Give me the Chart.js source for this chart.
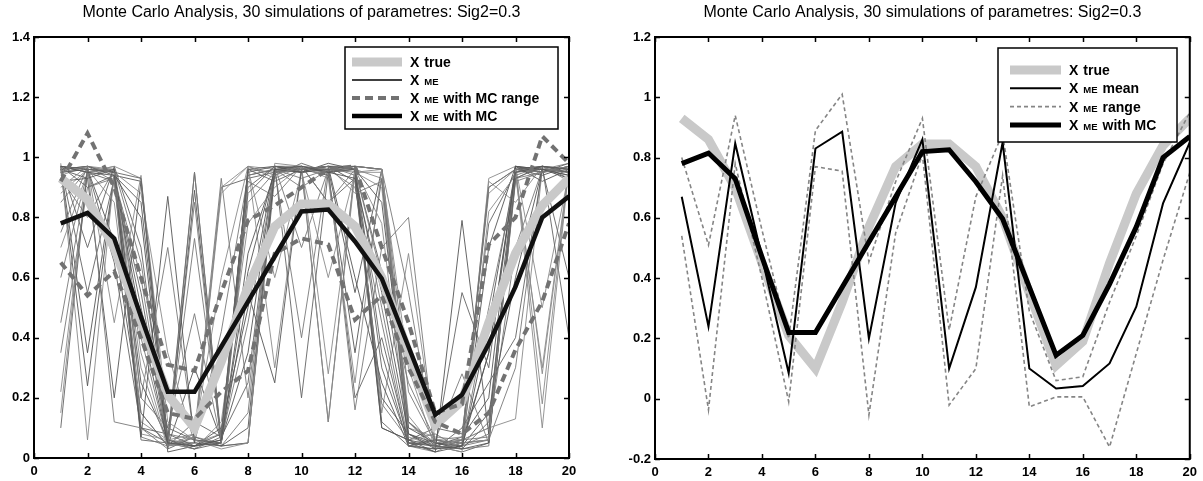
<!DOCTYPE html>
<html>
<head>
<meta charset="utf-8">
<script src="https://cdn.jsdelivr.net/npm/chart.js@4.4.0/dist/chart.umd.min.js"></script>
<style>
    html, body { margin: 0; padding: 0; background: #fff; }
    #wrap { position: relative; width: 1203px; height: 481px; }
    canvas { position: absolute; top: 0; }
</style>
</head>
<body>
<div id="wrap">
    <canvas id="left" width="600" height="481" style="left:0"></canvas>
    <canvas id="right" width="603" height="481" style="left:600px"></canvas>
</div>
<script>
// time steps 1..20
const steps = [1, 2, 3, 4, 5, 6, 7, 8, 9, 10, 11, 12, 13, 14, 15, 16, 17, 18, 19, 20];
const xTickValues = [0, 2, 4, 6, 8, 10, 12, 14, 16, 18, 20];
const leftYTickValues = [0, 0.2, 0.4, 0.6, 0.8, 1, 1.2, 1.4];
const rightYTickValues = [-0.2, 0, 0.2, 0.4, 0.6, 0.8, 1, 1.2];

const titleText = 'Monte Carlo Analysis, 30 simulations of parametres: Sig2=0.3';

// shared series
const trueState = [0.93, 0.86, 0.70, 0.45, 0.21, 0.10, 0.32, 0.57, 0.77, 0.845, 0.845, 0.77, 0.60, 0.35, 0.11, 0.19, 0.45, 0.68, 0.84, 0.93];
const meWithMc = [0.78, 0.815, 0.73, 0.47, 0.22, 0.22, 0.37, 0.52, 0.67, 0.82, 0.826, 0.72, 0.597, 0.37, 0.144, 0.21, 0.38, 0.57, 0.80, 0.87];

// left panel: MC range (thick dashed)
const leftRangeHigh = [0.92, 1.08, 0.90, 0.60, 0.31, 0.29, 0.55, 0.79, 0.84, 0.90, 0.96, 0.97, 0.70, 0.45, 0.15, 0.18, 0.71, 0.80, 1.07, 0.98];
const leftRangeLow = [0.65, 0.54, 0.62, 0.40, 0.15, 0.13, 0.22, 0.29, 0.68, 0.73, 0.71, 0.46, 0.54, 0.30, 0.12, 0.08, 0.15, 0.36, 0.52, 0.78];

// left panel: the 30 simulated X ME runs
const simRuns = [
    [0.97, 0.95, 0.94, 0.45, 0.05, 0.04, 0.06, 0.62, 0.96, 0.97, 0.95, 0.93, 0.55, 0.08, 0.03, 0.04, 0.35, 0.95, 0.97, 0.96],
    [0.95, 0.97, 0.12, 0.10, 0.03, 0.95, 0.05, 0.85, 0.95, 0.96, 0.97, 0.88, 0.92, 0.12, 0.05, 0.06, 0.90, 0.96, 0.95, 0.97],
    [0.10, 0.96, 0.95, 0.93, 0.06, 0.03, 0.07, 0.95, 0.97, 0.20, 0.95, 0.96, 0.30, 0.05, 0.04, 0.03, 0.12, 0.93, 0.97, 0.95],
    [0.98, 0.06, 0.95, 0.30, 0.04, 0.07, 0.90, 0.97, 0.94, 0.97, 0.93, 0.25, 0.96, 0.14, 0.03, 0.05, 0.06, 0.96, 0.10, 0.97],
    [0.92, 0.93, 0.96, 0.07, 0.87, 0.05, 0.04, 0.10, 0.96, 0.95, 0.98, 0.96, 0.10, 0.06, 0.02, 0.79, 0.08, 0.97, 0.96, 0.94],
    [0.35, 0.90, 0.93, 0.60, 0.05, 0.73, 0.06, 0.45, 0.95, 0.97, 0.85, 0.96, 0.60, 0.25, 0.06, 0.04, 0.50, 0.93, 0.95, 0.96],
    [0.97, 0.96, 0.65, 0.10, 0.08, 0.04, 0.08, 0.96, 0.92, 0.96, 0.96, 0.97, 0.35, 0.04, 0.03, 0.10, 0.25, 0.40, 0.96, 0.95],
    [0.22, 0.95, 0.97, 0.93, 0.12, 0.06, 0.03, 0.05, 0.98, 0.97, 0.12, 0.95, 0.96, 0.07, 0.04, 0.02, 0.82, 0.94, 0.30, 0.97],
    [0.96, 0.24, 0.94, 0.80, 0.03, 0.89, 0.05, 0.55, 0.25, 0.96, 0.97, 0.96, 0.85, 0.10, 0.05, 0.03, 0.05, 0.97, 0.96, 0.93],
    [0.75, 0.97, 0.92, 0.15, 0.04, 0.08, 0.93, 0.20, 0.96, 0.93, 0.96, 0.16, 0.70, 0.80, 0.04, 0.06, 0.07, 0.92, 0.95, 0.97],
    [0.97, 0.90, 0.94, 0.50, 0.10, 0.06, 0.05, 0.88, 0.97, 0.96, 0.95, 0.97, 0.12, 0.04, 0.06, 0.05, 0.90, 0.96, 0.97, 0.40],
    [0.90, 0.97, 0.45, 0.94, 0.05, 0.03, 0.12, 0.78, 0.90, 0.97, 0.28, 0.95, 0.95, 0.30, 0.03, 0.06, 0.10, 0.13, 0.96, 0.95],
    [0.95, 0.96, 0.95, 0.25, 0.06, 0.95, 0.06, 0.96, 0.97, 0.95, 0.96, 0.55, 0.96, 0.05, 0.02, 0.04, 0.70, 0.97, 0.92, 0.96],
    [0.60, 0.95, 0.96, 0.07, 0.04, 0.05, 0.42, 0.94, 0.96, 0.40, 0.97, 0.94, 0.18, 0.06, 0.08, 0.03, 0.04, 0.95, 0.97, 0.93],
    [0.97, 0.70, 0.97, 0.70, 0.03, 0.07, 0.04, 0.05, 0.94, 0.98, 0.95, 0.96, 0.62, 0.12, 0.04, 0.55, 0.30, 0.97, 0.95, 0.98],
    [0.88, 0.96, 0.85, 0.12, 0.06, 0.05, 0.88, 0.97, 0.96, 0.95, 0.60, 0.95, 0.90, 0.04, 0.06, 0.07, 0.88, 0.96, 0.28, 0.96],
    [0.96, 0.97, 0.94, 0.85, 0.05, 0.04, 0.06, 0.35, 0.97, 0.96, 0.97, 0.92, 0.20, 0.08, 0.05, 0.04, 0.15, 0.60, 0.96, 0.95],
    [0.45, 0.94, 0.96, 0.20, 0.70, 0.06, 0.05, 0.92, 0.87, 0.97, 0.95, 0.97, 0.96, 0.55, 0.03, 0.05, 0.06, 0.94, 0.97, 0.96],
    [0.97, 0.55, 0.93, 0.55, 0.04, 0.12, 0.07, 0.25, 0.96, 0.95, 0.96, 0.20, 0.40, 0.05, 0.04, 0.02, 0.05, 0.97, 0.95, 0.97],
    [0.94, 0.97, 0.96, 0.08, 0.06, 0.08, 0.60, 0.97, 0.30, 0.97, 0.95, 0.96, 0.93, 0.10, 0.07, 0.06, 0.92, 0.85, 0.97, 0.92],
    [0.96, 0.93, 0.20, 0.92, 0.02, 0.04, 0.05, 0.68, 0.95, 0.96, 0.97, 0.60, 0.25, 0.04, 0.03, 0.05, 0.35, 0.96, 0.94, 0.97],
    [0.85, 0.96, 0.95, 0.40, 0.05, 0.85, 0.04, 0.05, 0.96, 0.90, 0.96, 0.97, 0.96, 0.22, 0.05, 0.04, 0.06, 0.30, 0.97, 0.95],
    [0.97, 0.95, 0.92, 0.06, 0.05, 0.03, 0.05, 0.90, 0.97, 0.97, 0.85, 0.93, 0.10, 0.06, 0.10, 0.08, 0.78, 0.95, 0.96, 0.60],
    [0.15, 0.97, 0.95, 0.88, 0.35, 0.05, 0.08, 0.96, 0.60, 0.95, 0.97, 0.96, 0.78, 0.04, 0.02, 0.06, 0.10, 0.97, 0.18, 0.97],
    [0.97, 0.96, 0.72, 0.15, 0.04, 0.30, 0.06, 0.94, 0.96, 0.96, 0.94, 0.35, 0.93, 0.08, 0.04, 0.03, 0.45, 0.96, 0.96, 0.94],
    [0.93, 0.80, 0.96, 0.65, 0.08, 0.06, 0.04, 0.15, 0.97, 0.70, 0.96, 0.95, 0.50, 0.05, 0.06, 0.28, 0.05, 0.93, 0.97, 0.96],
    [0.96, 0.97, 0.95, 0.10, 0.05, 0.05, 0.90, 0.93, 0.95, 0.96, 0.12, 0.97, 0.96, 0.12, 0.03, 0.05, 0.06, 0.96, 0.95, 0.97],
    [0.70, 0.95, 0.97, 0.35, 0.04, 0.07, 0.05, 0.97, 0.93, 0.97, 0.96, 0.96, 0.15, 0.68, 0.05, 0.04, 0.93, 0.97, 0.50, 0.95],
    [0.97, 0.35, 0.94, 0.92, 0.06, 0.04, 0.10, 0.50, 0.97, 0.95, 0.97, 0.97, 0.96, 0.06, 0.04, 0.07, 0.20, 0.96, 0.97, 0.96],
    [0.95, 0.96, 0.96, 0.20, 0.10, 0.48, 0.05, 0.96, 0.95, 0.97, 0.96, 0.90, 0.45, 0.04, 0.06, 0.04, 0.08, 0.70, 0.96, 0.98]
];

// right panel: mean of X ME and its range
const meMean = [0.67, 0.24, 0.847, 0.47, 0.085, 0.83, 0.886, 0.20, 0.65, 0.86, 0.10, 0.37, 0.85, 0.10, 0.034, 0.042, 0.117, 0.305, 0.648, 0.85];
const meRangeHigh = [0.80, 0.51, 0.94, 0.56, 0.20, 0.89, 1.01, 0.455, 0.72, 0.93, 0.228, 0.67, 0.88, 0.29, 0.06, 0.073, 0.32, 0.54, 0.78, 0.95];
const meRangeLow = [0.54, -0.037, 0.78, 0.40, -0.01, 0.77, 0.755, -0.054, 0.55, 0.81, -0.021, 0.10, 0.74, -0.027, 0.006, 0.006, -0.16, 0.15, 0.46, 0.75];

const FONT = '"Liberation Sans", Arial, Helvetica, sans-serif';
const simColors = ['#555555', '#787878', '#636363', '#8a8a8a'];

function pts(vals) {
    return steps.map((x, i) => ({ x: x, y: vals[i] }));
}

function line(vals, color, width, dash) {
    return {
        data: pts(vals),
        borderColor: color,
        borderWidth: width,
        borderDash: dash || [],
        pointRadius: 0,
        fill: false,
        tension: 0
    };
}

function fmt(v) {
    return String(Math.round(v * 10) / 10);
}

// draws the MATLAB style box, inward ticks, title and legend
function framePlugin(opts) {
    return {
        id: 'frame',
        afterDraw(chart) {
            const ctx = chart.ctx;
            const a = chart.chartArea;
            const xs = chart.scales.x;
            const ys = chart.scales.y;
            ctx.save();
            ctx.strokeStyle = '#000';
            ctx.lineWidth = 1.5;
            ctx.beginPath();
            xs.ticks.forEach(t => {
                const p = Math.round(xs.getPixelForValue(t.value)) + 0.5;
                ctx.moveTo(p, a.bottom); ctx.lineTo(p, a.bottom - 5);
                ctx.moveTo(p, a.top); ctx.lineTo(p, a.top + 5);
            });
            ys.ticks.forEach(t => {
                const p = Math.round(ys.getPixelForValue(t.value)) + 0.5;
                ctx.moveTo(a.left, p); ctx.lineTo(a.left + 5, p);
                ctx.moveTo(a.right, p); ctx.lineTo(a.right - 5, p);
            });
            ctx.stroke();
            ctx.lineWidth = 2;
            ctx.strokeRect(a.left, a.top, a.right - a.left, a.bottom - a.top);

            // title
            ctx.fillStyle = '#000';
            ctx.font = '16px ' + FONT;
            ctx.textAlign = 'center';
            ctx.textBaseline = 'middle';
            ctx.fillText(opts.title, (a.left + a.right) / 2, 13);

            // legend
            const lg = opts.legend;
            ctx.fillStyle = '#fff';
            ctx.fillRect(lg.x, lg.y, lg.w, lg.h);
            ctx.lineWidth = 1.5;
            ctx.strokeStyle = '#000';
            ctx.strokeRect(lg.x, lg.y, lg.w, lg.h);
            ctx.textAlign = 'left';
            ctx.textBaseline = 'alphabetic';
            lg.rows.forEach((row, i) => {
                const y = lg.y + lg.firstRow + i * lg.rowGap;
                ctx.beginPath();
                ctx.setLineDash(row.dash || []);
                ctx.lineWidth = row.width;
                ctx.strokeStyle = row.color;
                ctx.moveTo(lg.x + lg.sampleX0, y);
                ctx.lineTo(lg.x + lg.sampleX1, y);
                ctx.stroke();
                ctx.setLineDash([]);
                ctx.fillStyle = '#000';
                let tx = lg.x + lg.textX;
                ctx.font = 'bold 14px ' + FONT;
                ctx.fillText('X', tx, y + 5);
                tx += ctx.measureText('X').width + 5;
                if (row.me) {
                    ctx.font = 'bold 9.5px ' + FONT;
                    ctx.fillText('ME', tx, y + 5);
                    tx += ctx.measureText('ME').width + 5;
                }
                ctx.font = 'bold 14px ' + FONT;
                ctx.fillText(row.rest, tx, y + 5);
            });
            ctx.restore();
        }
    };
}

function scaleOpts(tickValues, min, max, axisSize, isX) {
    return {
        type: 'linear',
        min: min,
        max: max,
        grid: { display: false, drawTicks: false },
        border: { display: false },
        ticks: {
            color: '#000',
            font: { family: FONT, size: 13, weight: 'bold' },
            padding: isX ? 6 : 4,
            maxRotation: 0,
            autoSkip: false,
            callback: v => fmt(v)
        },
        afterBuildTicks: s => { s.ticks = tickValues.map(v => ({ value: v })); },
        afterFit: s => { if (isX) s.height = axisSize; else s.width = axisSize; }
    };
}

function baseOptions(padRight, yTicks, yMin, yMax, yWidth, xHeight) {
    return {
        responsive: false,
        animation: false,
        events: [],
        layout: { padding: { top: 37, right: padRight, left: 0, bottom: 0 } },
        plugins: { legend: { display: false }, tooltip: { enabled: false }, title: { display: false } },
        scales: {
            x: scaleOpts(xTickValues, 0, 20, xHeight, true),
            y: scaleOpts(yTicks, yMin, yMax, yWidth, false)
        }
    };
}

// left panel
const leftSets = [
    line(meWithMc, '#111', 4.5),
    line(leftRangeHigh, '#727272', 4, [8, 5]),
    line(leftRangeLow, '#727272', 4, [8, 5]),
    line(trueState, '#c9c9c9', 9)
].concat(simRuns.map((run, k) => line(run, simColors[k % simColors.length], 0.9)));

new Chart(document.getElementById('left'), {
    type: 'line',
    data: { datasets: leftSets },
    options: baseOptions(31, leftYTickValues, 0, 1.4, 34, 23),
    plugins: [framePlugin({
        title: titleText,
        legend: {
            x: 345, y: 47, w: 213, h: 82, firstRow: 15, rowGap: 18,
            sampleX0: 7, sampleX1: 57, textX: 65,
            rows: [
                { me: false, rest: 'true', color: '#c9c9c9', width: 9 },
                { me: true, rest: '', color: '#000', width: 1.5 },
                { me: true, rest: 'with MC range', color: '#727272', width: 4, dash: [8, 5] },
                { me: true, rest: 'with MC', color: '#000', width: 4.5 }
            ]
        }
    })]
});

// right panel
const rightSets = [
    line(meWithMc, '#000', 5),
    line(meMean, '#000', 2),
    line(meRangeHigh, '#858585', 1.6, [4, 3]),
    line(meRangeLow, '#858585', 1.6, [4, 3]),
    line(trueState, '#c9c9c9', 9)
];

new Chart(document.getElementById('right'), {
    type: 'line',
    data: { datasets: rightSets },
    options: baseOptions(9, rightYTickValues, -0.2, 1.2, 55, 22),
    plugins: [framePlugin({
        title: titleText,
        legend: {
            x: 398, y: 48, w: 179, h: 94, firstRow: 22, rowGap: 18.3,
            sampleX0: 12, sampleX1: 63, textX: 71,
            rows: [
                { me: false, rest: 'true', color: '#c9c9c9', width: 9 },
                { me: true, rest: 'mean', color: '#000', width: 2 },
                { me: true, rest: 'range', color: '#858585', width: 1.6, dash: [4, 3] },
                { me: true, rest: 'with MC', color: '#000', width: 5 }
            ]
        }
    })]
});
</script>
</body>
</html>
